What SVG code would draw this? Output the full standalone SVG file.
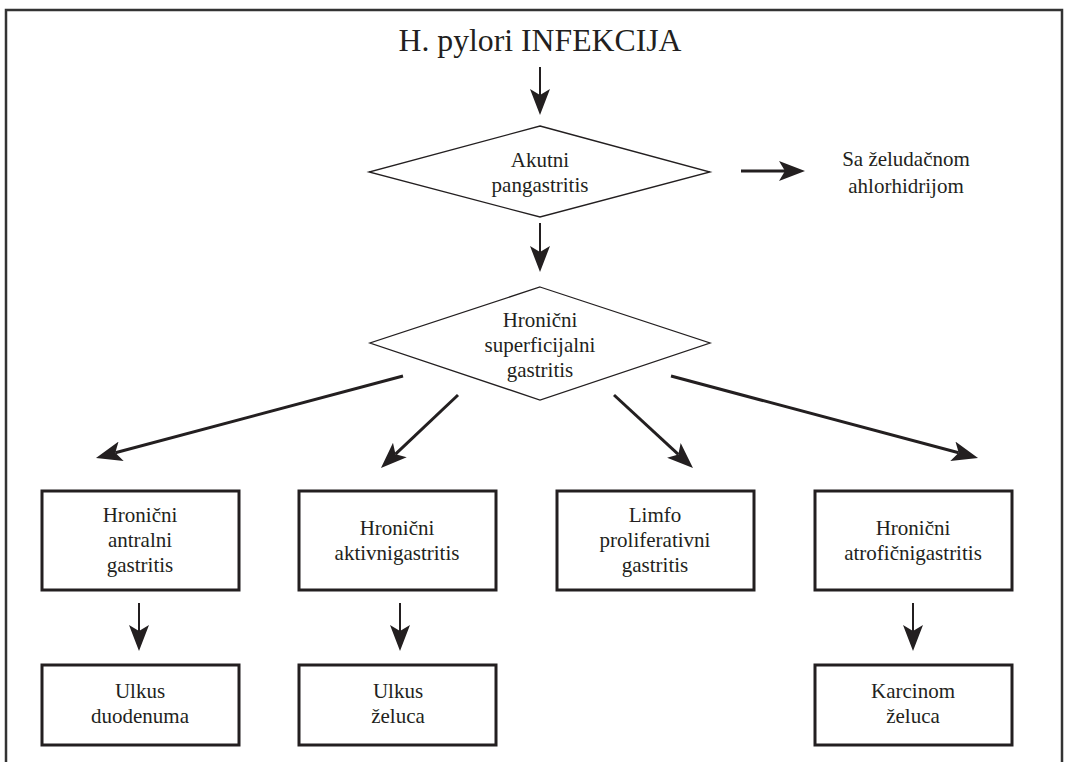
<svg xmlns="http://www.w3.org/2000/svg" width="1067" height="762" viewBox="0 0 1067 762">
<style>
text{font-family:"Liberation Serif","Times New Roman",serif;font-size:21px;fill:#231f20;text-anchor:middle}
.title{font-size:31.5px}
.dia{fill:#fff;stroke:#231f20;stroke-width:1.3}
.box{fill:#fff;stroke:#231f20;stroke-width:3}
.c2{stroke:#231f20;stroke-width:2;fill:none}
.c3{stroke:#231f20;stroke-width:3;fill:none}
</style>
<defs>
<marker id="ah" viewBox="0 -10 26 20" markerWidth="26" markerHeight="20" refX="6" refY="0" markerUnits="userSpaceOnUse" orient="auto">
<path d="M26,0 L0,-10 L6,0 L0,10 Z" fill="#231f20"/>
</marker>
</defs>
<rect width="1067" height="762" fill="#fff"/>
<path d="M6,775 V10 H1062 V775" fill="none" stroke="#333" stroke-width="2.5"/>
<g id="title"><text class="title" x="540" y="51" textLength="283" lengthAdjust="spacingAndGlyphs">H. pylori INFEKCIJA</text></g>
<g id="connectors">
<line class="c2" x1="540" y1="67" x2="540" y2="95" marker-end="url(#ah)"/>
<line class="c3" x1="741" y1="171" x2="785" y2="171" marker-end="url(#ah)"/>
<line class="c2" x1="540" y1="223" x2="540" y2="252" marker-end="url(#ah)"/>
<line class="c3" x1="403" y1="376" x2="115.3" y2="452.8" marker-end="url(#ah)"/>
<line class="c3" x1="458" y1="395" x2="395.5" y2="454.2" marker-end="url(#ah)"/>
<line class="c3" x1="614" y1="395" x2="678.3" y2="454.4" marker-end="url(#ah)"/>
<line class="c3" x1="671" y1="376" x2="958.7" y2="452.8" marker-end="url(#ah)"/>
<line class="c2" x1="139" y1="603" x2="139" y2="631" marker-end="url(#ah)"/>
<line class="c2" x1="400" y1="603" x2="400" y2="631" marker-end="url(#ah)"/>
<line class="c2" x1="913" y1="603" x2="913" y2="631" marker-end="url(#ah)"/>
</g>
<g id="akutni">
<polygon class="dia" points="540,126 710,172 540,217 369,172"/>
<text x="540" y="167">Akutni</text><text x="540" y="192">pangastritis</text>
</g>
<g id="ahlorhidrija">
<text x="906" y="166">Sa želudačnom</text><text x="906" y="193">ahlorhidrijom</text>
</g>
<g id="superficijalni">
<polygon class="dia" points="540,287 710,343 540,400 370,343"/>
<text x="540" y="327">Hronični</text><text x="540" y="352">superficijalni</text><text x="540" y="377">gastritis</text>
</g>
<g id="antralni">
<rect class="box" x="42" y="491" width="197" height="99"/>
<text x="140" y="522">Hronični</text><text x="140" y="547">antralni</text><text x="140" y="572">gastritis</text>
</g>
<g id="aktivni">
<rect class="box" x="299" y="491" width="197" height="99"/>
<text x="397" y="535">Hronični</text><text x="397" y="560">aktivnigastritis</text>
</g>
<g id="limfo">
<rect class="box" x="557" y="491" width="197" height="99"/>
<text x="655" y="522">Limfo</text><text x="655" y="547">proliferativni</text><text x="655" y="572">gastritis</text>
</g>
<g id="atroficni">
<rect class="box" x="815" y="491" width="197" height="99"/>
<text x="913" y="535">Hronični</text><text x="913" y="560">atrofičnigastritis</text>
</g>
<g id="ulkus-duodenuma">
<rect class="box" x="42" y="665" width="197" height="80"/>
<text x="140" y="698">Ulkus</text><text x="140" y="723">duodenuma</text>
</g>
<g id="ulkus-zeluca">
<rect class="box" x="299" y="665" width="197" height="80"/>
<text x="398" y="698">Ulkus</text><text x="398" y="723">želuca</text>
</g>
<g id="karcinom">
<rect class="box" x="815" y="665" width="197" height="80"/>
<text x="913" y="698">Karcinom</text><text x="913" y="723">želuca</text>
</g>
</svg>
